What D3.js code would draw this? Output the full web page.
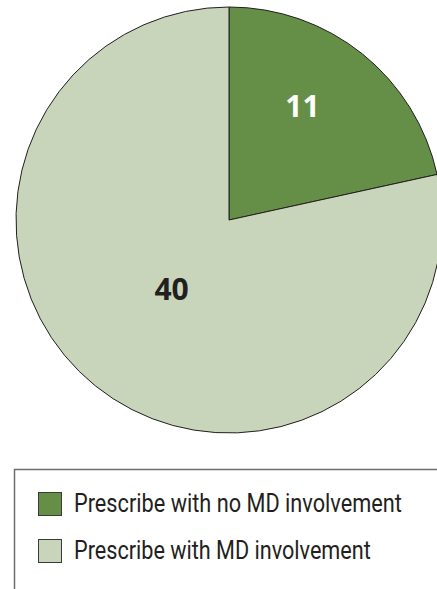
<!DOCTYPE html>
<html>
<head>
<meta charset="utf-8">
<script src="https://cdn.jsdelivr.net/npm/d3@7"></script>
<style>
  html, body { margin: 0; padding: 0; background: #fff; overflow: hidden; }
  svg { display: block; }
</style>
</head>
<body>
<div id="chart"></div>
<script>
// data
const categories = ["Prescribe with no MD involvement", "Prescribe with MD involvement"];
const values = [11, 40];
const colors = ["#658f46", "#c8d5bb"];

const width = 437, height = 589;
const svg = d3.select("#chart").append("svg")
  .attr("width", width)
  .attr("height", height);

// pie
const cx = 229, cy = 220, r = 213;
const pie = d3.pie().sort(null).value(d => d);
const arcs = pie(values);
const arc = d3.arc().innerRadius(0).outerRadius(r);

const g = svg.append("g").attr("transform", `translate(${cx},${cy})`);

g.selectAll("path")
  .data(arcs)
  .join("path")
  .attr("d", arc)
  .attr("fill", (d, i) => colors[i])
  .attr("stroke", "#231f20")
  .attr("stroke-width", 1);

// value labels
const labelArc = [
  d3.arc().innerRadius(r * 0.64).outerRadius(r * 0.64),
  d3.arc().innerRadius(r * 0.43).outerRadius(r * 0.43)
];
const labelColor = ["#ffffff", "#231f20"];
const labelNudge = [[-12, -8], [0, -2]];

g.selectAll("text.val")
  .data(arcs)
  .join("text")
  .attr("class", "val")
  .attr("transform", (d, i) => {
    const c = labelArc[i].centroid(d);
    return `translate(${c[0] + labelNudge[i][0]},${c[1] + labelNudge[i][1]})`;
  })
  .attr("text-anchor", "middle")
  .attr("dy", "0.36em")
  .attr("font-family", "'Open Sans', sans-serif")
  .attr("font-weight", 700)
  .attr("font-size", 30)
  .attr("fill", (d, i) => labelColor[i])
  .text(d => d.data);

// legend
const legend = svg.append("g");
legend.append("path")
  .attr("d", `M14.5,${height + 5} V469.5 H${width + 5}`)
  .attr("fill", "none")
  .attr("stroke", "#6d6e70")
  .attr("stroke-width", 1.5);

const item = legend.selectAll("g.item")
  .data(categories)
  .join("g")
  .attr("class", "item")
  .attr("transform", (d, i) => `translate(38,${492 + i * 47})`);

item.append("rect")
  .attr("x", 0.5).attr("y", 0.5)
  .attr("width", 23).attr("height", 23)
  .attr("fill", (d, i) => colors[i])
  .attr("stroke", "#3a3a3a")
  .attr("stroke-width", 1);

// condensed look: squeeze the text horizontally to the reference width
const textLen = [328, 297];
item.append("g")
  .attr("class", "lbl")
  .append("text")
  .attr("font-family", "Roboto, sans-serif")
  .attr("font-size", 25)
  .attr("fill", "#231f20")
  .text(d => d);

item.select("g.lbl").each(function (d, i) {
  const t = d3.select(this).select("text");
  const k = textLen[i] / t.node().getComputedTextLength();
  d3.select(this).attr("transform", `translate(36,20) scale(${k},1)`);
});
</script>
</body>
</html>
